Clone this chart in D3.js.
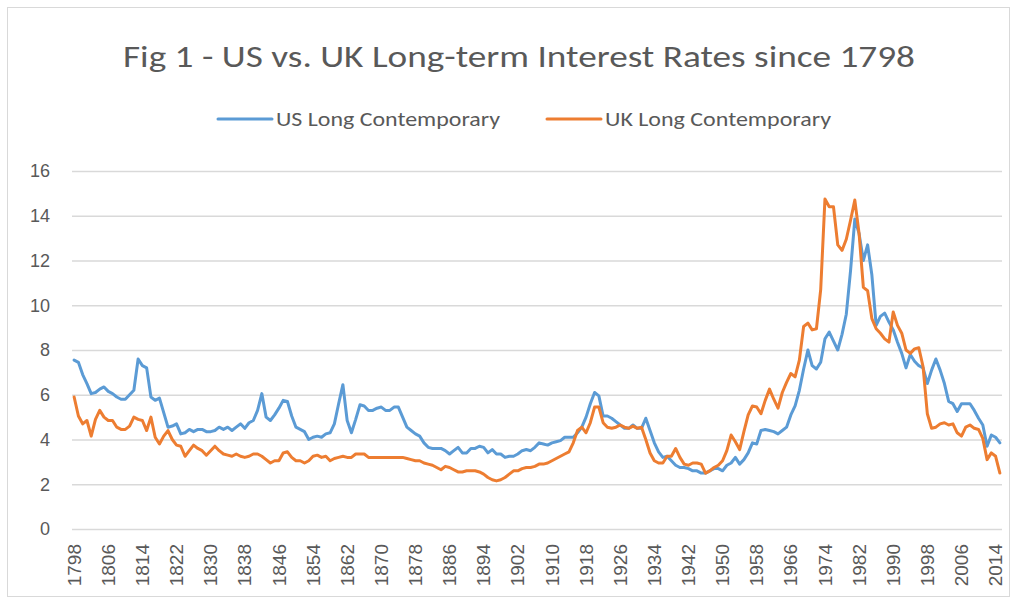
<!DOCTYPE html>
<html>
<head>
<meta charset="utf-8">
<script src="https://cdn.jsdelivr.net/npm/d3@7"></script>
<style>
  body { margin: 0; background: #fff; }
  svg { display: block; font-family: Calibri, Carlito, Lato, sans-serif; }
</style>
</head>
<body>
<svg width="1017" height="604"></svg>
<script>
// Data: annual long-term rates, 1798 - 2015
var firstYear = 1798;
var lastYear = 2015;
var years = d3.range(firstYear, lastYear + 1);

var usLong = [
  7.55, 7.45, 6.9, 6.5, 6.05, 6.1, 6.25, 6.35, 6.15, 6.05,   // 1798-1807
  5.9, 5.8, 5.8, 6.0, 6.2, 7.6, 7.3, 7.2, 5.9, 5.75,          // 1808-1817
  5.85, 5.2, 4.55, 4.6, 4.7, 4.25, 4.3, 4.45, 4.35, 4.45,     // 1818-1827
  4.45, 4.35, 4.35, 4.4, 4.55, 4.45, 4.55, 4.4, 4.55, 4.7,    // 1828-1837
  4.5, 4.75, 4.85, 5.3, 6.05, 5.0, 4.85, 5.1, 5.4, 5.75,      // 1838-1847
  5.7, 5.05, 4.55, 4.45, 4.35, 4.0, 4.1, 4.15, 4.1, 4.25,     // 1848-1857
  4.3, 4.7, 5.6, 6.45, 4.85, 4.3, 4.9, 5.55, 5.5, 5.3,        // 1858-1867
  5.3, 5.4, 5.45, 5.3, 5.3, 5.45, 5.45, 5.0, 4.55, 4.4,       // 1868-1877
  4.25, 4.15, 3.85, 3.65, 3.6, 3.6, 3.6, 3.5, 3.35, 3.5,      // 1878-1887
  3.65, 3.4, 3.4, 3.6, 3.6, 3.7, 3.65, 3.4, 3.55, 3.35,       // 1888-1897
  3.35, 3.2, 3.25, 3.25, 3.35, 3.5, 3.55, 3.5, 3.65, 3.85,    // 1898-1907
  3.8, 3.75, 3.85, 3.9, 3.95, 4.1, 4.1, 4.1, 4.3, 4.55,       // 1908-1917
  5.0, 5.6, 6.1, 5.95, 5.05, 5.05, 4.95, 4.8, 4.65, 4.5,      // 1918-1927
  4.5, 4.65, 4.5, 4.5, 4.95, 4.4, 3.85, 3.45, 3.2, 3.25,      // 1928-1937
  3.05, 2.85, 2.75, 2.75, 2.7, 2.6, 2.6, 2.5, 2.5, 2.6,       // 1938-1947
  2.7, 2.7, 2.6, 2.85, 2.95, 3.2, 2.9, 3.1, 3.4, 3.85,        // 1948-1957
  3.8, 4.4, 4.45, 4.4, 4.35, 4.25, 4.4, 4.55, 5.1, 5.5,       // 1958-1967
  6.2, 7.15, 8.0, 7.3, 7.15, 7.45, 8.5, 8.8, 8.4, 8.0,        // 1968-1977
  8.7, 9.6, 11.55, 13.85, 13.2, 12.0, 12.7, 11.35, 9.1, 9.5,  // 1978-1987
  9.65, 9.25, 8.9, 8.35, 7.85, 7.2, 7.8, 7.5, 7.3, 7.2,       // 1988-1997
  6.5, 7.1, 7.6, 7.1, 6.5, 5.7, 5.6, 5.25, 5.6, 5.6,          // 1998-2007
  5.6, 5.3, 4.95, 4.65, 3.7, 4.2, 4.1, 3.85                   // 2008-2015
];

var ukLong = [
  5.9, 5.05, 4.7, 4.85, 4.15, 4.9, 5.3, 5.0, 4.85, 4.85,      // 1798-1807
  4.55, 4.45, 4.45, 4.6, 5.0, 4.9, 4.85, 4.4, 5.0, 4.1,       // 1808-1817
  3.8, 4.15, 4.4, 4.0, 3.75, 3.7, 3.25, 3.5, 3.75, 3.6,       // 1818-1827
  3.5, 3.3, 3.5, 3.7, 3.5, 3.35, 3.3, 3.25, 3.35, 3.25,       // 1828-1837
  3.2, 3.25, 3.35, 3.35, 3.25, 3.1, 2.95, 3.05, 3.05, 3.4,    // 1838-1847
  3.45, 3.2, 3.05, 3.05, 2.95, 3.05, 3.25, 3.3, 3.2, 3.25,    // 1848-1857
  3.05, 3.15, 3.2, 3.25, 3.2, 3.2, 3.35, 3.35, 3.35, 3.2,     // 1858-1867
  3.2, 3.2, 3.2, 3.2, 3.2, 3.2, 3.2, 3.2, 3.15, 3.1,          // 1868-1877
  3.05, 3.05, 2.95, 2.9, 2.85, 2.75, 2.65, 2.8, 2.75, 2.65,   // 1878-1887
  2.55, 2.55, 2.6, 2.6, 2.6, 2.55, 2.45, 2.3, 2.2, 2.15,      // 1888-1897
  2.2, 2.3, 2.45, 2.6, 2.6, 2.7, 2.75, 2.75, 2.8, 2.9,        // 1898-1907
  2.9, 2.95, 3.05, 3.15, 3.25, 3.35, 3.45, 3.85, 4.4, 4.55,   // 1908-1917
  4.3, 4.75, 5.45, 5.45, 4.75, 4.55, 4.5, 4.55, 4.65, 4.55,   // 1918-1927
  4.5, 4.6, 4.5, 4.55, 4.0, 3.4, 3.05, 2.95, 2.95, 3.25,      // 1928-1937
  3.25, 3.6, 3.2, 2.9, 2.85, 2.95, 2.95, 2.9, 2.5, 2.6,       // 1938-1947
  2.75, 2.85, 3.05, 3.5, 4.2, 3.9, 3.55, 4.35, 5.1, 5.5,      // 1948-1957
  5.45, 5.15, 5.75, 6.25, 5.8, 5.4, 6.1, 6.55, 6.95, 6.8,     // 1958-1967
  7.55, 9.05, 9.2, 8.9, 8.95, 10.7, 14.75, 14.4, 14.4, 12.7,  // 1968-1977
  12.45, 12.95, 13.8, 14.7, 13.2, 10.8, 10.65, 9.4, 8.95, 8.75, // 1978-1987
  8.5, 8.35, 9.7, 9.1, 8.75, 8.0, 7.85, 8.05, 8.1, 7.25,      // 1988-1997
  5.15, 4.5, 4.55, 4.7, 4.75, 4.65, 4.7, 4.3, 4.15, 4.55,     // 1998-2007
  4.65, 4.5, 4.45, 4.05, 3.1, 3.4, 3.25, 2.5                  // 2008-2015
];

var seriesNames = ["US Long Contemporary", "UK Long Contemporary"];
var seriesColors = ["#5b9bd5", "#ed7d31"];
var yTicks = [0, 2, 4, 6, 8, 10, 12, 14, 16];
var xLabelYears = years.filter(function (y) { return (y - firstYear) % 8 === 0; });

// Layout
var width = 1017;
var height = 604;
var plot = { left: 72, right: 1002, top: 171, bottom: 529 };
var textColor = "#595959";

var svg = d3.select("svg");

// chart border
svg.append("rect")
    .attr("x", 7.5).attr("y", 7.5)
    .attr("width", width - 15).attr("height", height - 15)
    .attr("fill", "none")
    .attr("stroke", "#d9d9d9");

// Scales
var x = d3.scaleBand()
    .domain(years)
    .range([plot.left, plot.right])
    .padding(0);

var y = d3.scaleLinear()
    .domain([0, 16])
    .range([plot.bottom, plot.top]);

function cx(yr) { return x(yr) + x.bandwidth() / 2; }

// Gridlines + y labels
var yAxis = d3.axisLeft(y)
    .tickValues(yTicks)
    .tickSize(-(plot.right - plot.left))
    .tickPadding(22);

var gy = svg.append("g")
    .attr("transform", "translate(" + plot.left + ",0)")
    .call(yAxis);
gy.select(".domain").remove();
gy.selectAll(".tick line")
    .attr("stroke", "#d9d9d9")
    .attr("stroke-width", 1.3);
gy.selectAll(".tick text")
    .attr("fill", textColor)
    .style("font-size", "18px");

// x labels (rotated)
var xAxis = d3.axisBottom(x)
    .tickValues(xLabelYears)
    .tickSize(0);

var gx = svg.append("g")
    .attr("transform", "translate(0," + plot.bottom + ")")
    .call(xAxis);
gx.select(".domain").remove();
gx.selectAll(".tick text")
    .attr("fill", textColor)
    .style("font-size", "19px")
    .attr("text-anchor", "end")
    .attr("transform", "rotate(-90)")
    .attr("x", -15)
    .attr("y", 0)
    .attr("dy", "0.35em");

// Lines
var line = d3.line()
    .x(function (d) { return cx(d.year); })
    .y(function (d) { return y(d.value); });

[usLong, ukLong].forEach(function (vals, i) {
    var pts = years.map(function (yr, k) { return { year: yr, value: vals[k] }; });
    svg.append("path")
        .datum(pts)
        .attr("d", line)
        .attr("fill", "none")
        .attr("stroke", seriesColors[i])
        .attr("stroke-width", 3)
        .attr("stroke-linejoin", "round")
        .attr("stroke-linecap", "round");
});

// Title
svg.append("text")
    .attr("x", 519)
    .attr("y", 67)
    .attr("text-anchor", "middle")
    .attr("fill", textColor)
    .attr("textLength", 792)
    .attr("lengthAdjust", "spacingAndGlyphs")
    .style("font-size", "31px")
    .style("font-weight", 300)
    .text("Fig 1 - US vs. UK Long-term Interest Rates since 1798");

// Legend
var legendItems = [
    { x0: 218, tx: 276, tw: 224 },
    { x0: 547, tx: 605, tw: 226 }
];
legendItems.forEach(function (it, i) {
    svg.append("line")
        .attr("x1", it.x0).attr("x2", it.x0 + 54)
        .attr("y1", 119).attr("y2", 119)
        .attr("stroke", seriesColors[i])
        .attr("stroke-width", 3)
        .attr("stroke-linecap", "round");
    svg.append("text")
        .attr("x", it.tx)
        .attr("y", 126)
        .attr("fill", textColor)
        .attr("textLength", it.tw)
        .attr("lengthAdjust", "spacingAndGlyphs")
        .style("font-size", "20px")
        .text(seriesNames[i]);
});
</script>
</body>
</html>
